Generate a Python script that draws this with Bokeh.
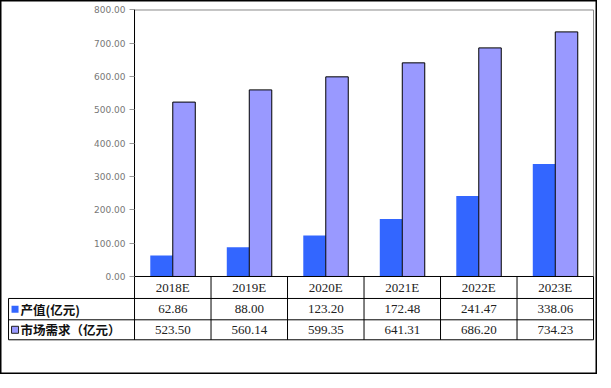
from bokeh.plotting import figure
from bokeh.models import LinearAxis, FixedTicker, PrintfTickFormatter, ColumnDataSource, Range1d
from bokeh.transform import dodge
from bokeh.core.properties import value
from bokeh.embed import file_html
from bokeh.resources import INLINE

# ---- data ----
categories = ["2018E", "2019E", "2020E", "2021E", "2022E", "2023E"]
output_value = [62.86, 88.00, 123.20, 172.48, 241.47, 338.06]
market_demand = [523.50, 560.14, 599.35, 641.31, 686.20, 734.23]
series_names = ["产值(亿元)", "市场需求（亿元）"]
series_colors = ["#3366FF", "#9999FF"]
y_ticks = [0, 100, 200, 300, 400, 500, 600, 700, 800]

n = len(categories)
xs = [i + 0.5 for i in range(n)]

# layout constants (data units)
label_left = -1.647
row_lines = [0, -66, -130, -190]
row_mid = [(row_lines[k] + row_lines[k + 1]) / 2 for k in range(3)]
ymax = y_ticks[-1]

p = figure(width=597, height=374,
           x_range=Range1d(-1.752, 6.052), y_range=Range1d(-294.2, 828.5),
           output_backend="svg", toolbar_location=None,
           x_axis_location=None, y_axis_location=None, min_border=0)
p.grid.visible = False
p.outline_line_color = "black"
p.outline_line_width = 2
p.background_fill_color = "white"
p.border_fill_color = "white"

# y axis anchored at the plot-area left edge (x = 0)
ax = LinearAxis(fixed_location=0, ticker=FixedTicker(ticks=y_ticks),
                formatter=PrintfTickFormatter(format="%.2f"), bounds=(0, ymax))
ax.axis_line_color = "black"
ax.axis_line_width = 1
ax.major_tick_out = 5
ax.major_tick_in = 0
ax.major_tick_line_color = "#999999"
ax.minor_tick_line_color = None
ax.major_label_text_font = "DejaVu Sans"
ax.major_label_text_font_size = "9px"
ax.major_label_text_color = "#777777"
ax.major_label_standoff = 4
p.add_layout(ax, "left")

# plot area frame (top/right, gray)
p.segment(x0=[0, n], y0=[ymax, ymax], x1=[n, n], y1=[ymax, 0],
          line_color="#888888", line_width=1)

# bars
src = ColumnDataSource(dict(x=xs, cat=categories, prod=output_value, dem=market_demand,
                            prod_t=["%.2f" % v for v in output_value],
                            dem_t=["%.2f" % v for v in market_demand]))
bw = 0.294
p.vbar(x=dodge("x", -bw / 2, range=p.x_range), top="prod", width=bw, source=src,
       fill_color=series_colors[0], line_color=None)
p.vbar(x=dodge("x", bw / 2, range=p.x_range), top="dem", width=bw, source=src,
       fill_color=series_colors[1], line_color="black", line_width=1)

# data table grid
hx0 = [0, label_left, label_left, label_left]
hx1 = [n, n, n, n]
p.segment(x0=hx0, y0=row_lines, x1=hx1, y1=row_lines, line_color="black", line_width=1)
vx = [label_left] + list(range(0, n + 1))
vy0 = [row_lines[1]] + [row_lines[0]] * (n + 1)
p.segment(x0=vx, y0=vy0, x1=vx, y1=[row_lines[3]] * len(vx), line_color="black", line_width=1)
p.segment(x0=[0], y0=[0], x1=[0], y1=[ymax], line_color="black", line_width=1)

# table texts
p.text(x="x", y=row_mid[0], text="cat", source=src, text_align="center", text_baseline="middle",
       text_font=value("Liberation Serif"), text_font_size="13px", text_color="#222222")
p.text(x="x", y=row_mid[1], text="prod_t", source=src, text_align="center", text_baseline="middle",
       text_font=value("Liberation Serif"), text_font_size="13px", text_color="#222222")
p.text(x="x", y=row_mid[2], text="dem_t", source=src, text_align="center", text_baseline="middle",
       text_font=value("Liberation Serif"), text_font_size="13px", text_color="#222222")

# legend keys + series names
p.scatter(x=[-1.562, -1.562], y=[row_mid[1], row_mid[2]], marker="square", size=7,
          fill_color=series_colors, line_color=[None, "#222222"])
p.text(x=[-1.49, -1.49], y=[row_mid[1], row_mid[2]], text=series_names,
       text_align="left", text_baseline="middle",
       text_font=value("Noto Sans CJK SC"), text_font_style="bold",
       text_font_size="12.5px", text_color="#111111")

open("out.html", "w").write(file_html(p, INLINE))
